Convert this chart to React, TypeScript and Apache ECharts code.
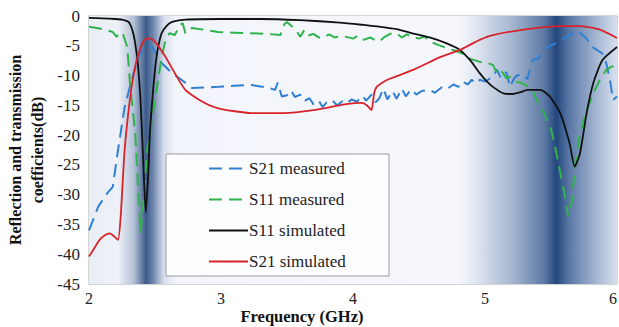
import React, { useEffect, useRef } from "react";
import * as echarts from "echarts";

const xTicks = [2, 3, 4, 5, 6];
const yRange = [-45, 0];

const s21Measured: number[][] = [
  [2.0, -36], [2.07, -32], [2.14, -29.7], [2.18, -28.7], [2.22, -22.5], [2.27, -15.3], [2.33, -10.2],
  [2.36, -7.9], [2.4, -5.7], [2.45, -4.9], [2.48, -5.2], [2.55, -7.9], [2.63, -9.6], [2.7, -10.7],
  [2.78, -12.1], [2.9, -12], [2.98, -11.9], [3.1, -11.7], [3.23, -11.6], [3.35, -12], [3.41, -12.4],
  [3.43, -11.2], [3.46, -13.5], [3.5, -13.3], [3.53, -12.5], [3.56, -13.6], [3.6, -13.2], [3.63, -14.3],
  [3.67, -13.8], [3.7, -14.8], [3.74, -14.2], [3.77, -15.3], [3.8, -14.5], [3.84, -14.1], [3.88, -15],
  [3.92, -14.3], [3.95, -14.7], [3.99, -14], [4.03, -14.4], [4.07, -13.4], [4.1, -14.2], [4.14, -13.2],
  [4.17, -14.5], [4.2, -13.8], [4.23, -12.2], [4.26, -14], [4.3, -12.6], [4.33, -13.9], [4.37, -12.2],
  [4.4, -13.5], [4.44, -12.3], [4.48, -13.2], [4.52, -12.6], [4.58, -12.4], [4.62, -12.9], [4.67, -12],
  [4.71, -12.3], [4.76, -11.5], [4.8, -11.9], [4.83, -11], [4.87, -11.5], [4.9, -10.7], [4.93, -11.3],
  [4.96, -10.7], [5.0, -11], [5.06, -10.2], [5.09, -9], [5.12, -10.4], [5.16, -9.4], [5.19, -11.9],
  [5.22, -10.5], [5.24, -10], [5.28, -9.8], [5.32, -10.6], [5.36, -7.4], [5.4, -7.2], [5.42, -6.6],
  [5.45, -5.6], [5.49, -5.0], [5.54, -4.6], [5.58, -4], [5.62, -3.5], [5.66, -3.0], [5.7, -2.5],
  [5.74, -3.2], [5.77, -3.8], [5.8, -5.0], [5.84, -5.6], [5.89, -6.3], [5.92, -8], [5.95, -11.2],
  [5.97, -14.1], [6.0, -13.5],
];

const s11Measured: number[][] = [
  [2.0, -1.8], [2.06, -2.0], [2.12, -2.3], [2.18, -2.7], [2.21, -3.5], [2.23, -2.7], [2.26, -3.2],
  [2.29, -5.2], [2.31, -11.2], [2.35, -19.6], [2.37, -28], [2.39, -36.4], [2.41, -32], [2.44, -22.5],
  [2.48, -16.9], [2.52, -11.2], [2.55, -6.9], [2.58, -4], [2.61, -2.9], [2.65, -3.2], [2.69, -1.5],
  [2.71, -1.2], [2.73, -2.9], [2.78, -2], [2.9, -2.4], [2.98, -2.7], [3.1, -2.8], [3.23, -2.9],
  [3.35, -3.0], [3.45, -3.2], [3.48, -1.4], [3.5, -1.0], [3.53, -1.6], [3.57, -2.4], [3.6, -3.5],
  [3.63, -2.4], [3.66, -3.3], [3.7, -3.0], [3.74, -3.6], [3.77, -3.7], [3.82, -3.1], [3.86, -3.6],
  [3.9, -3.4], [3.95, -3.5], [4.0, -3.8], [4.04, -3.3], [4.08, -4.0], [4.13, -3.6], [4.17, -4.1],
  [4.2, -4.3], [4.24, -3.5], [4.28, -3.0], [4.33, -2.9], [4.37, -3.6], [4.41, -3.1], [4.45, -3.5],
  [4.5, -3.8], [4.54, -3.4], [4.58, -4.3], [4.64, -4.8], [4.71, -5.4], [4.77, -5.8], [4.83, -6.3],
  [4.89, -7.2], [4.96, -7.7], [5.02, -7.9], [5.06, -8.2], [5.09, -9.6], [5.12, -9.1], [5.16, -10.4],
  [5.19, -10.2], [5.23, -11], [5.27, -11.2], [5.3, -11.5], [5.34, -12.1], [5.37, -13.0], [5.39, -14.1],
  [5.43, -15.5], [5.47, -17.4], [5.5, -19], [5.52, -20.8], [5.55, -24], [5.57, -26.3], [5.6, -29.7],
  [5.63, -33.7], [5.66, -30.9], [5.68, -25.3], [5.72, -19.6], [5.77, -15.8], [5.82, -13], [5.87, -10.7],
  [5.92, -9], [5.96, -8.5], [6.0, -8.2],
];

const s11Simulated: number[][] = [
  [2.0, -0.3], [2.1, -0.4], [2.2, -0.5], [2.25, -0.6], [2.3, -1.0], [2.33, -2.5], [2.35, -4.6],
  [2.37, -8], [2.39, -14], [2.41, -24], [2.43, -33], [2.45, -26], [2.46, -20], [2.48, -14], [2.5, -9],
  [2.52, -5.7], [2.55, -2.9], [2.59, -1.6], [2.63, -1.0], [2.73, -0.6], [3.0, -0.5], [3.3, -0.5],
  [3.6, -0.7], [3.9, -1.1], [4.08, -1.5], [4.2, -1.8], [4.33, -2.2], [4.45, -2.9], [4.58, -3.6],
  [4.71, -4.6], [4.81, -5.7], [4.89, -7.5], [4.96, -9.6], [5.01, -10.9], [5.06, -11.9], [5.14, -13],
  [5.21, -13.1], [5.27, -12.8], [5.32, -12.4], [5.42, -12.4], [5.49, -13.5], [5.57, -16.3],
  [5.64, -21.3], [5.68, -25.3], [5.72, -23], [5.77, -16.3], [5.82, -11.3], [5.89, -7.4], [6.0, -5.2],
];

const s21Simulated: number[][] = [
  [2.0, -40.4], [2.04, -39], [2.08, -37.6], [2.12, -36.8], [2.16, -36.5], [2.19, -37], [2.22, -37.6],
  [2.24, -33.7], [2.27, -22.5], [2.31, -14], [2.35, -8.5], [2.39, -5.4], [2.42, -4], [2.46, -3.7],
  [2.5, -4.3], [2.58, -6.9], [2.65, -9.6], [2.73, -12.4], [2.86, -14.4], [2.98, -15.5], [3.23, -16.3],
  [3.48, -16.3], [3.7, -15.8], [3.95, -14.8], [4.07, -14.6], [4.11, -15.1], [4.14, -15.8], [4.16, -13],
  [4.18, -11.9], [4.26, -10.7], [4.45, -9.1], [4.66, -6.9], [4.81, -5.7], [4.96, -4.0], [5.06, -3.2],
  [5.32, -2.2], [5.57, -1.7], [5.72, -1.7], [5.87, -2.3], [6.0, -3.7],
];

const seriesNames = ["S21 measured", "S11 measured", "S11 simulated", "S21 simulated"];
const seriesColors = ["#2f80d3", "#2fb34a", "#111111", "#d8232a"];

const FONT = "Liberation Serif";

export default function App() {
  const ref = useRef<HTMLDivElement>(null);
  useEffect(() => {
    if (!ref.current) return;
    const chart = echarts.init(ref.current, undefined, { renderer: "svg" });
    const bg = new echarts.graphic.LinearGradient(0, 0, 1, 0, [
      { offset: 0, color: "#e9edf4" },
      { offset: 0.055, color: "#eef1f8" },
      { offset: 0.085, color: "#b3c0d6" },
      { offset: 0.108, color: "#3b5a89" },
      { offset: 0.122, color: "#7088ae" },
      { offset: 0.142, color: "#d8dfec" },
      { offset: 0.165, color: "#f2f5fb" },
      { offset: 0.7, color: "#f5f7fc" },
      { offset: 0.73, color: "#e2e8f2" },
      { offset: 0.8, color: "#a7b7d1" },
      { offset: 0.862, color: "#5d7aa6" },
      { offset: 0.885, color: "#23477d" },
      { offset: 0.91, color: "#5b79a6" },
      { offset: 0.96, color: "#a3b5d2" },
      { offset: 1, color: "#d9e1ef" },
    ]);
    const datasets = [s21Measured, s11Measured, s11Simulated, s21Simulated];
    const lineSeries = datasets.map((d, i) => ({
      type: "line",
      name: seriesNames[i],
      data: d,
      symbol: "none",
      smooth: i >= 2 ? 0.2 : false,
      z: 3 + i,
      lineStyle: {
        color: seriesColors[i],
        width: i >= 2 ? 1.8 : 2,
        type: i < 2 ? [13, 7] : "solid",
      },
      itemStyle: { color: seriesColors[i] },
    }));
    chart.setOption({
      animation: false,
      grid: {
        left: 89,
        right: 2,
        top: 16,
        bottom: 43,
        outerBoundsMode: "none",
        containLabel: false,
        show: true,
        borderColor: "#a8a8a8",
        borderWidth: 1,
        backgroundColor: "transparent",
      },
      xAxis: {
        type: "value",
        min: xTicks[0],
        max: xTicks[xTicks.length - 1],
        interval: 1,
        axisLine: { show: true, lineStyle: { color: "#a8a8a8" } },
        axisTick: { show: false },
        splitLine: { show: false },
        axisLabel: { fontFamily: FONT, fontSize: 16, color: "#222", margin: 6, alignMaxLabel: "right" },
      },
      yAxis: {
        type: "value",
        min: yRange[0],
        max: yRange[1],
        interval: 5,
        axisLine: { show: true, lineStyle: { color: "#8c8c8c" } },
        axisTick: { show: false },
        splitLine: { show: false },
        axisLabel: { fontFamily: FONT, fontSize: 17, color: "#222", margin: 9 },
      },
      legend: {
        data: seriesNames,
        orient: "vertical",
        left: 166,
        top: 154,
        z: 8,
        padding: [6, 40, 6, 42],
        itemGap: 14,
        itemWidth: 39,
        itemHeight: 17,
        itemStyle: { opacity: 0 },
        backgroundColor: "#fcfdff",
        borderColor: "#9a9a9a",
        borderWidth: 1,
        textStyle: {
          fontFamily: FONT,
          fontSize: 17,
          lineHeight: 17,
          width: 100,
          overflow: "none",
          color: "#222",
          padding: [0, 0, 0, -4],
        },
      },
      graphic: [
        {
          type: "text",
          x: 302,
          y: 316,
          style: {
            text: "Frequency (GHz)",
            fontFamily: FONT,
            fontSize: 16.5,
            fontWeight: "bold",
            fill: "#111",
            textAlign: "center",
            textVerticalAlign: "middle",
          },
        },
        {
          type: "text",
          x: 26,
          y: 150,
          rotation: Math.PI / 2,
          style: {
            text: "Reflection and transmission\ncoefficients(dB)",
            fontFamily: FONT,
            fontSize: 16,
            fontWeight: "bold",
            fill: "#111",
            textAlign: "center",
            textVerticalAlign: "middle",
            lineHeight: 22,
          },
        },
      ],
      series: [
        {
          type: "line",
          data: [],
          z: 1,
          silent: true,
          markArea: {
            silent: true,
            itemStyle: { color: bg },
            data: [[{ xAxis: xTicks[0], yAxis: yRange[1] }, { xAxis: xTicks[xTicks.length - 1], yAxis: yRange[0] }]],
          },
        },
        ...lineSeries,
      ],
    });
    return () => chart.dispose();
  }, []);
  return <div ref={ref} style={{ width: 619, height: 327, position: "absolute", left: 0, top: 0 }} />;
}
